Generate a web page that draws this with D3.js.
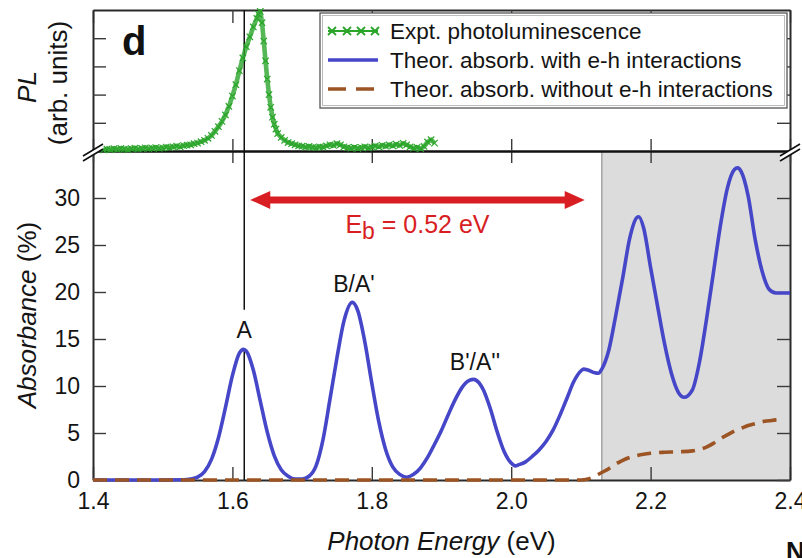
<!DOCTYPE html>
<html>
<head>
<meta charset="utf-8">
<script src="https://cdn.jsdelivr.net/npm/d3@7"></script>
<style>
  html, body { margin: 0; padding: 0; background: #fff; }
  svg { display: block; font-family: "Liberation Sans", Arial, Helvetica, sans-serif; }
</style>
</head>
<body>
<svg id="chart" width="802" height="558"></svg>
<script>
// ---- data ---------------------------------------------------------------
const energyTicks = [1.4, 1.6, 1.8, 2.0, 2.2, 2.4];
const absorbanceTicks = [0, 5, 10, 15, 20, 25, 30];
const plTicks = [1, 2, 3, 4];

// theoretical absorbance with e-h interactions: [photon energy (eV), absorbance (%)]
const absWithEH = [
  [1.40, 0], [1.45, 0], [1.50, 0], [1.53, 0.02], [1.54, 0.1], [1.55, 0.3], [1.56, 0.9],
  [1.57, 2.2], [1.58, 4.5], [1.59, 7.7], [1.60, 11.1], [1.61, 13.5], [1.616, 13.9],
  [1.62, 13.7], [1.63, 11.7], [1.64, 8.4], [1.65, 5.1], [1.66, 2.6], [1.67, 1.1],
  [1.68, 0.4], [1.69, 0.1], [1.70, 0.1], [1.71, 0.4], [1.72, 1.5], [1.73, 4.3],
  [1.74, 8.6], [1.75, 13.0], [1.76, 16.9], [1.772, 18.9], [1.78, 18.0], [1.79, 14.7],
  [1.80, 10.3], [1.81, 6.2], [1.82, 3.2], [1.83, 1.4], [1.84, 0.6], [1.85, 0.3],
  [1.86, 0.6], [1.87, 1.3], [1.88, 2.4], [1.89, 3.8], [1.90, 5.3], [1.91, 7.0],
  [1.92, 8.6], [1.93, 9.9], [1.94, 10.6], [1.946, 10.7], [1.95, 10.6], [1.96, 9.6],
  [1.97, 7.6], [1.98, 5.1], [1.99, 3.0], [2.00, 1.8], [2.006, 1.5], [2.01, 1.6],
  [2.02, 1.9], [2.03, 2.5], [2.04, 3.2], [2.05, 4.1], [2.06, 5.3], [2.07, 6.9],
  [2.08, 8.7], [2.09, 10.5], [2.10, 11.6], [2.104, 11.8], [2.11, 11.7], [2.12, 11.4],
  [2.125, 11.35], [2.13, 11.8], [2.14, 13.8], [2.15, 17.5], [2.16, 21.5], [2.17, 25.7],
  [2.18, 27.9], [2.183, 28.0], [2.19, 26.8], [2.20, 22.6], [2.21, 18.5], [2.22, 14.5],
  [2.23, 11.3], [2.24, 9.3], [2.248, 8.8], [2.26, 9.6], [2.27, 12.5], [2.28, 17.0],
  [2.29, 22.0], [2.30, 27.0], [2.31, 31.0], [2.32, 33.0], [2.325, 33.2], [2.33, 32.8],
  [2.34, 30.2], [2.35, 25.6], [2.36, 22.2], [2.37, 20.3], [2.38, 19.9], [2.39, 19.9],
  [2.40, 19.9]
];

// theoretical absorbance without e-h interactions
const absWithoutEH = [
  [1.40, 0], [1.80, 0], [2.10, 0], [2.11, 0.1], [2.12, 0.4], [2.13, 0.8], [2.14, 1.2],
  [2.15, 1.7], [2.16, 2.1], [2.17, 2.4], [2.18, 2.6], [2.19, 2.75], [2.20, 2.85],
  [2.22, 2.95], [2.24, 3.0], [2.26, 3.1], [2.27, 3.25], [2.28, 3.5], [2.29, 3.9],
  [2.30, 4.4], [2.31, 4.8], [2.32, 5.2], [2.33, 5.5], [2.34, 5.8], [2.35, 6.0],
  [2.36, 6.2], [2.37, 6.3], [2.38, 6.4], [2.39, 6.45]
];

// measured photoluminescence (arb. units)
const plExpt = [
  [1.415, 0.04], [1.420, 0.07], [1.425, 0.05], [1.430, 0.08], [1.435, 0.06], [1.440, 0.09],
  [1.445, 0.07], [1.450, 0.05], [1.455, 0.08], [1.460, 0.10], [1.465, 0.07], [1.470, 0.09],
  [1.475, 0.11], [1.480, 0.08], [1.485, 0.10], [1.490, 0.12], [1.495, 0.09], [1.500, 0.11],
  [1.505, 0.14], [1.510, 0.12], [1.515, 0.15], [1.520, 0.17], [1.525, 0.15], [1.530, 0.19],
  [1.535, 0.21], [1.540, 0.22], [1.545, 0.26], [1.550, 0.28], [1.555, 0.33], [1.560, 0.38],
  [1.565, 0.45], [1.570, 0.55], [1.575, 0.70], [1.580, 0.86], [1.585, 1.05], [1.590, 1.28],
  [1.595, 1.58], [1.600, 1.95], [1.605, 2.35], [1.610, 2.85], [1.615, 3.30], [1.620, 3.70],
  [1.625, 4.05], [1.630, 4.40], [1.635, 4.70], [1.6375, 4.85], [1.640, 4.95], [1.6425, 4.55],
  [1.645, 3.90], [1.6475, 3.20], [1.650, 2.55], [1.6525, 2.00], [1.655, 1.55], [1.6575, 1.20],
  [1.660, 0.95], [1.6625, 0.78], [1.665, 0.62], [1.670, 0.48], [1.675, 0.38], [1.680, 0.30],
  [1.685, 0.26], [1.690, 0.22], [1.695, 0.18], [1.700, 0.17], [1.705, 0.14], [1.710, 0.16],
  [1.715, 0.13], [1.720, 0.12], [1.725, 0.15], [1.730, 0.14], [1.735, 0.18], [1.740, 0.22],
  [1.745, 0.20], [1.750, 0.26], [1.755, 0.22], [1.760, 0.15], [1.765, 0.12], [1.770, 0.10],
  [1.775, 0.13], [1.780, 0.09], [1.785, 0.12], [1.790, 0.15], [1.795, 0.11], [1.800, 0.14],
  [1.805, 0.18], [1.810, 0.15], [1.815, 0.20], [1.820, 0.17], [1.825, 0.22], [1.830, 0.18],
  [1.835, 0.24], [1.840, 0.20], [1.845, 0.27], [1.850, 0.22], [1.855, 0.15], [1.860, 0.10],
  [1.865, 0.13], [1.870, 0.08], [1.875, 0.16], [1.880, 0.32], [1.885, 0.40], [1.890, 0.28]
];

// peak annotations: [label, photon energy, absorbance of text baseline]
const peakLabels = [["A", 1.617, 15.1], ["B/A'", 1.7745, 20.0], ["B'/A''", 1.948, 11.7]];

const peakA = 1.617;          // A exciton energy (eV)
const bindingEnergy = 0.52;   // E_b (eV)
const shadeFrom = 2.13;       // start of shaded region (eV)

const legendItems = [
  "Expt. photoluminescence",
  "Theor. absorb. with e-h interactions",
  "Theor. absorb. without e-h interactions"
];

// ---- layout -------------------------------------------------------------
const svg = d3.select("#chart");
const FONT = '"Liberation Sans", Arial, Helvetica, sans-serif';
const BLUE = "#4646c8", BROWN = "#9c5424", GREEN = "#2aa52a", RED = "#d81e22";

const x = d3.scaleLinear().domain([1.4, 2.4]).range([93, 790]);
const yAbs = d3.scaleLinear().domain([0, 35]).range([480, 151]);
const yPL = d3.scaleLinear().domain([0, 5]).range([151, 10]);

// shaded high-energy region
svg.append("rect")
  .attr("x", x(shadeFrom)).attr("y", yAbs(35))
  .attr("width", x(2.4) - x(shadeFrom)).attr("height", yAbs(0) - yAbs(35))
  .attr("fill", "#dcdcdc");
svg.append("line")
  .attr("x1", x(shadeFrom)).attr("x2", x(shadeFrom))
  .attr("y1", yAbs(35)).attr("y2", yAbs(0))
  .attr("stroke", "#a8a8a8").attr("stroke-width", 1.6);

function styleAxis(g, domainColor) {
  g.attr("font-family", FONT);
  g.select(".domain").attr("stroke", domainColor || "#2a2a2a").attr("stroke-width", 2);
  g.selectAll(".tick line").attr("stroke", "#3a3a3a").attr("stroke-width", 1.4);
  g.selectAll(".tick text").attr("font-size", 23).attr("fill", "#141414");
}

// absorbance panel axes
svg.append("g").attr("transform", `translate(0,${yAbs(0)})`)
  .call(d3.axisBottom(x).tickValues(energyTicks).tickFormat(d3.format(".1f"))
    .tickSize(-13).tickSizeOuter(0).tickPadding(13))
  .call(styleAxis);
svg.append("g").attr("transform", `translate(${x(1.4)},0)`)
  .call(d3.axisLeft(yAbs).tickValues(absorbanceTicks)
    .tickSize(-13).tickSizeOuter(0).tickPadding(13))
  .call(styleAxis);
svg.append("g").attr("transform", `translate(${x(2.4)},0)`)
  .call(d3.axisRight(yAbs).tickValues(absorbanceTicks).tickFormat("")
    .tickSize(-13).tickSizeOuter(0))
  .call(styleAxis);
svg.append("g").attr("transform", `translate(0,${yAbs(35)})`)
  .call(d3.axisTop(x).tickValues(energyTicks).tickFormat("")
    .tickSize(-12).tickSizeOuter(0))
  .call(g => styleAxis(g, "#111"));

// photoluminescence panel axes
svg.append("g").attr("transform", `translate(0,${yPL(0)})`)
  .call(d3.axisBottom(x).tickValues(energyTicks).tickFormat("")
    .tickSize(-12).tickSizeOuter(0))
  .call(g => styleAxis(g, "#111"));
svg.append("g").attr("transform", `translate(0,${yPL(5)})`)
  .call(d3.axisTop(x).tickValues(energyTicks).tickFormat("")
    .tickSize(-13).tickSizeOuter(0))
  .call(styleAxis);
svg.append("g").attr("transform", `translate(${x(1.4)},0)`)
  .call(d3.axisLeft(yPL).tickValues(plTicks).tickFormat("")
    .tickSize(-13).tickSizeOuter(0))
  .call(styleAxis);
svg.append("g").attr("transform", `translate(${x(2.4)},0)`)
  .call(d3.axisRight(yPL).tickValues(plTicks).tickFormat("")
    .tickSize(-13).tickSizeOuter(0))
  .call(styleAxis);

// vertical marker through the A exciton, interrupted by its label
const aLabel = peakLabels[0];
svg.append("line")
  .attr("x1", x(peakA)).attr("x2", x(peakA))
  .attr("y1", yPL(5)).attr("y2", yAbs(aLabel[2] + 3.0))
  .attr("stroke", "#111").attr("stroke-width", 1.5);
svg.append("line")
  .attr("x1", x(peakA)).attr("x2", x(peakA))
  .attr("y1", yAbs(13.9)).attr("y2", yAbs(0))
  .attr("stroke", "#111").attr("stroke-width", 1.5);

// PL points: a dense band of crosses
const plLine = d3.line().x(d => x(d[0])).y(d => yPL(d[1])).curve(d3.curveLinear);
svg.append("path").datum(plExpt)
  .attr("d", plLine).attr("fill", "none")
  .attr("stroke", GREEN).attr("stroke-width", 4.6).attr("stroke-opacity", 0.8)
  .attr("stroke-linejoin", "round");
const cross = (cx, cy, r) => `M${cx - r},${cy - r}L${cx + r},${cy + r}M${cx - r},${cy + r}L${cx + r},${cy - r}`;
svg.append("path")
  .attr("d", plExpt.map(d => cross(x(d[0]), yPL(d[1]), 3.2)).join(""))
  .attr("fill", "none").attr("stroke", GREEN).attr("stroke-width", 1.2);

// absorbance curves
const absLine = d3.line().x(d => x(d[0])).y(d => yAbs(d[1])).curve(d3.curveMonotoneX);
svg.append("path").datum(absWithEH)
  .attr("d", absLine).attr("fill", "none")
  .attr("stroke", BLUE).attr("stroke-width", 3.6).attr("stroke-linejoin", "round");
svg.append("path").datum(absWithoutEH)
  .attr("d", absLine).attr("fill", "none")
  .attr("stroke", BROWN).attr("stroke-width", 3.6).attr("stroke-dasharray", "14,8");

// peak labels
svg.append("g").selectAll("text").data(peakLabels).join("text")
  .attr("x", d => x(d[1])).attr("y", d => yAbs(d[2]))
  .attr("text-anchor", "middle").attr("font-size", 23).attr("fill", "#141414")
  .text(d => d[0]);

// binding-energy double arrow
const arrowY = yAbs(29.8);
const ax1 = x(peakA) + 6, ax2 = x(peakA + bindingEnergy) - 22;
const head = 20, halfW = 9;
svg.append("line")
  .attr("x1", ax1 + head - 2).attr("x2", ax2 - head + 2)
  .attr("y1", arrowY).attr("y2", arrowY)
  .attr("stroke", RED).attr("stroke-width", 7);
svg.append("path")
  .attr("d", `M${ax1},${arrowY}L${ax1 + head},${arrowY - halfW}L${ax1 + head},${arrowY + halfW}Z` +
             `M${ax2},${arrowY}L${ax2 - head},${arrowY - halfW}L${ax2 - head},${arrowY + halfW}Z`)
  .attr("fill", RED);
const eb = svg.append("text")
  .attr("x", (ax1 + ax2) / 2).attr("y", arrowY + 33)
  .attr("text-anchor", "middle").attr("font-size", 25).attr("fill", RED);
eb.append("tspan").text("E");
eb.append("tspan").attr("dy", 6).attr("font-size", 23).text("b");
eb.append("tspan").attr("dy", -6).text(` = ${bindingEnergy.toFixed(2)} eV`);

// axis break marks
function breakMark(cx, cy) {
  const g = svg.append("g").attr("transform", `translate(${cx},${cy})`);
  g.append("path").attr("d", "M-10,4L10,-8L10,-3L-10,9Z").attr("fill", "#fff");
  g.append("path").attr("d", "M-10,4L10,-8M-10,9L10,-3")
    .attr("stroke", "#111").attr("stroke-width", 1.6).attr("fill", "none");
}
breakMark(x(1.4), yAbs(35) + 1);
breakMark(x(2.4), yAbs(35) + 1);

// legend
const lg = svg.append("g").attr("font-family", FONT);
lg.append("rect").attr("x", 320).attr("y", 13).attr("width", 467).attr("height", 95)
  .attr("fill", "#fff").attr("stroke", "#555").attr("stroke-width", 1.3);
lg.append("rect").attr("x", 322.5).attr("y", 15.5).attr("width", 462).attr("height", 90)
  .attr("fill", "none").attr("stroke", "#bbb").attr("stroke-width", 1);
const rowY = i => 31 + i * 29;
lg.append("line").attr("x1", 328).attr("x2", 378).attr("y1", rowY(0)).attr("y2", rowY(0))
  .attr("stroke", GREEN).attr("stroke-width", 2);
lg.append("path")
  .attr("d", [332, 347, 361, 375].map(cx => cross(cx, rowY(0), 4)).join(""))
  .attr("stroke", GREEN).attr("stroke-width", 1.8).attr("fill", "none");
lg.append("line").attr("x1", 328).attr("x2", 378).attr("y1", rowY(1)).attr("y2", rowY(1))
  .attr("stroke", BLUE).attr("stroke-width", 3.6);
lg.append("line").attr("x1", 328).attr("x2", 378).attr("y1", rowY(2)).attr("y2", rowY(2))
  .attr("stroke", BROWN).attr("stroke-width", 3.6).attr("stroke-dasharray", "18,10");
lg.selectAll("text.item").data(legendItems).join("text").attr("class", "item")
  .attr("x", 390).attr("y", (d, i) => rowY(i) + 8)
  .attr("font-size", 22.5).attr("fill", "#141414").text(d => d);

// titles
const yt = svg.append("text").attr("transform", "translate(36,315) rotate(-90)")
  .attr("text-anchor", "middle").attr("font-size", 26).attr("fill", "#141414");
yt.append("tspan").attr("font-style", "italic").text("Absorbance");
yt.append("tspan").text(" (%)");

svg.append("text").attr("transform", "translate(36,87) rotate(-90)")
  .attr("text-anchor", "middle").attr("font-size", 26).attr("font-style", "italic")
  .attr("fill", "#141414").text("PL");
svg.append("text").attr("transform", "translate(67,83) rotate(-90)")
  .attr("text-anchor", "middle").attr("font-size", 26).attr("fill", "#141414")
  .text("(arb. units)");

const xt = svg.append("text").attr("x", (x(1.4) + x(2.4)) / 2).attr("y", 550)
  .attr("text-anchor", "middle").attr("font-size", 26).attr("fill", "#141414");
xt.append("tspan").attr("font-style", "italic").text("Photon Energy");
xt.append("tspan").text(" (eV)");

svg.append("text").attr("x", 122).attr("y", 55).attr("font-size", 40)
  .attr("font-weight", "bold").attr("fill", "#111").text("d");
svg.append("text").attr("x", 786).attr("y", 560).attr("font-size", 26)
  .attr("font-weight", "bold").attr("fill", "#111").text("N");
</script>
</body>
</html>
